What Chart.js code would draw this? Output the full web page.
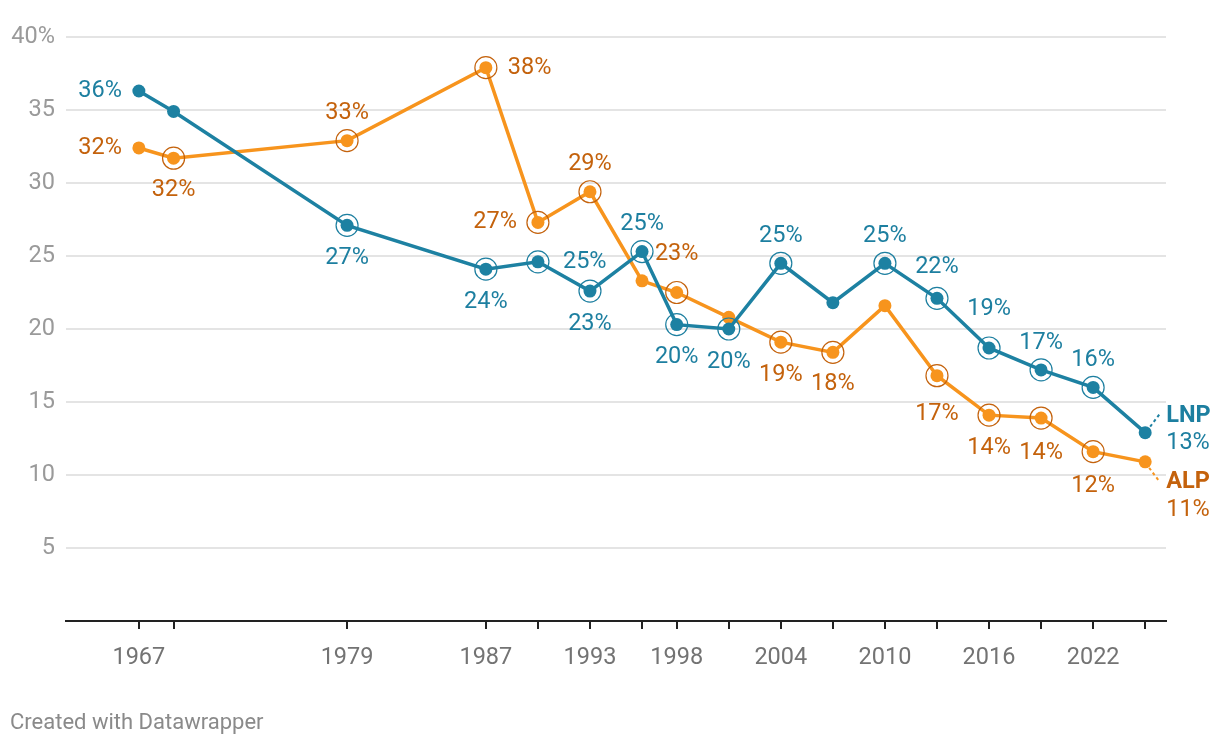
<!DOCTYPE html>
<html><head><meta charset="utf-8">
<script src="https://cdn.jsdelivr.net/npm/chart.js@4.4.1/dist/chart.umd.min.js"></script>
<style>html,body{margin:0;padding:0;background:#fff;} canvas{display:block;}</style>
</head><body>
<canvas id="c" width="1220" height="748" style="width:1220px;height:748px"></canvas>
<script>
// ---- data ----
const years = [1967,1969,1979,1987,1990,1993,1996,1998,2001,2004,2007,2010,2013,2016,2019,2022,2025];
const lnpValues = [36.3,34.9,27.1,24.1,24.6,22.6,25.3,20.3,20.0,24.5,21.8,24.5,22.1,18.7,17.2,16.0,12.9];
const alpValues = [32.4,31.7,32.9,37.9,27.3,29.4,23.3,22.5,20.8,19.1,18.4,21.6,16.8,14.1,13.9,11.6,10.9];
const seriesNames = ['LNP','ALP'];
const labeledYears = [1967,1979,1987,1993,1998,2004,2010,2016,2022];
const yTickValues = [0,5,10,15,20,25,30,35,40];

// ---- styling ----
const LNP_COLOR = '#1d81a2', LNP_TEXT = '#1d7fa0';
const ALP_COLOR = '#f7941d', ALP_TEXT = '#c4620c';
const FONT = 'Roboto, "Noto Sans", Arial, sans-serif';
const LABEL_SIZE = 23.5;

// label placement (pixel offsets from the point)
const placements = [
  { text: LNP_TEXT, ring: LNP_TEXT, items: [
    {i:0,dx:-17,dy:0,align:'right'}, {i:2,dx:0,dy:33}, {i:3,dx:0,dy:33},
    {i:4,dx:25,dy:0,align:'left'}, {i:5,dx:0,dy:33}, {i:6,dx:0,dy:-27},
    {i:7,dx:0,dy:33}, {i:8,dx:0,dy:33}, {i:9,dx:0,dy:-27}, {i:11,dx:0,dy:-27},
    {i:12,dx:0,dy:-31}, {i:13,dx:0,dy:-39}, {i:14,dx:0,dy:-27}, {i:15,dx:0,dy:-27}
  ], rings:[2,3,4,5,6,7,8,9,11,12,13,14,15],
    end:{dx:21, nameDy:-17, valDy:10, c1:[5,-6], c2:[14,-18]} },
  { text: ALP_TEXT, ring: ALP_TEXT, items: [
    {i:0,dx:-17,dy:0,align:'right'}, {i:1,dx:0,dy:32}, {i:2,dx:0,dy:-28},
    {i:3,dx:22,dy:0,align:'left'}, {i:4,dx:-21,dy:0,align:'right'}, {i:5,dx:0,dy:-28},
    {i:7,dx:0,dy:-38}, {i:9,dx:0,dy:33}, {i:10,dx:0,dy:32}, {i:12,dx:0,dy:38},
    {i:13,dx:0,dy:33}, {i:14,dx:0,dy:35}, {i:15,dx:0,dy:34}
  ], rings:[1,2,3,4,5,7,9,10,12,13,14,15],
    end:{dx:21, nameDy:20, valDy:48, c1:[4,6], c2:[13,18]} }
];

const labelPlugin = {
  id: 'labels',
  afterDatasetsDraw(chart) {
    const ctx = chart.ctx;
    ctx.save();
    placements.forEach((p, di) => {
      const meta = chart.getDatasetMeta(di);
      const vals = chart.data.datasets[di].data;
      // rings
      ctx.strokeStyle = p.ring; ctx.lineWidth = 1.2; ctx.setLineDash([]);
      p.rings.forEach(i => {
        const el = meta.data[i];
        ctx.beginPath(); ctx.arc(el.x, el.y, 11, 0, Math.PI*2); ctx.stroke();
      });
      // labels
      ctx.fillStyle = p.text; ctx.font = LABEL_SIZE + 'px ' + FONT; ctx.textBaseline = 'middle';
      p.items.forEach(it => {
        const el = meta.data[it.i];
        ctx.textAlign = it.align || 'center';
        ctx.fillText(Math.round(vals[it.i].y) + '%', el.x + it.dx, el.y + it.dy);
      });
      // end label
      const last = meta.data.length - 1, el = meta.data[last], e = p.end;
      ctx.strokeStyle = chart.data.datasets[di].borderColor; ctx.lineWidth = 2;
      ctx.setLineDash([3,3]);
      ctx.beginPath(); ctx.moveTo(el.x + e.c1[0], el.y + e.c1[1]); ctx.lineTo(el.x + e.c2[0], el.y + e.c2[1]); ctx.stroke();
      ctx.setLineDash([]);
      ctx.textAlign = 'left';
      ctx.font = 'bold ' + LABEL_SIZE + 'px ' + FONT;
      ctx.fillText(seriesNames[di], el.x + e.dx, el.y + e.nameDy);
      ctx.font = LABEL_SIZE + 'px ' + FONT;
      ctx.fillText(Math.round(vals[last].y) + '%', el.x + e.dx, el.y + e.valDy);
    });
    // footer
    ctx.fillStyle = '#8a8a8a'; ctx.font = '22px ' + FONT; ctx.textAlign = 'left'; ctx.textBaseline = 'middle';
    ctx.fillText('Created with Datawrapper', 10, 723);
    ctx.restore();
  }
};

const toXY = vals => vals.map((v, i) => ({x: years[i], y: v}));

new Chart(document.getElementById('c'), {
  type: 'line',
  data: {
    datasets: [
      { label: seriesNames[0], data: toXY(lnpValues), borderColor: LNP_COLOR, backgroundColor: LNP_COLOR,
        borderWidth: 3.5, pointRadius: 6.5, pointBackgroundColor: LNP_COLOR, pointBorderWidth: 0, tension: 0, clip: false },
      { label: seriesNames[1], data: toXY(alpValues), borderColor: ALP_COLOR, backgroundColor: ALP_COLOR,
        borderWidth: 3.5, pointRadius: 6.5, pointBackgroundColor: ALP_COLOR, pointBorderWidth: 0, tension: 0, clip: false }
    ]
  },
  options: {
    responsive: false, animation: false, devicePixelRatio: 1,
    layout: { padding: { top: 37, right: 54, bottom: 0, left: 0 } },
    plugins: { legend: { display: false }, tooltip: { enabled: false } },
    scales: {
      x: {
        type: 'linear', min: 1962.8, max: 2026.2,
        afterBuildTicks: s => { s.ticks = years.map(v => ({ value: v })); },
        afterFit: s => { s.height = 127; },
        ticks: { autoSkip: false, maxRotation: 0, padding: 15, color: '#737373',
          font: { family: FONT, size: 23.5 },
          callback: v => labeledYears.includes(v) ? String(v) : '' },
        grid: { display: true, drawOnChartArea: false, drawTicks: true, tickLength: 8, color: '#222', lineWidth: 2 },
        border: { display: true, color: '#222', width: 2 }
      },
      y: {
        min: 0, max: 40,
        afterBuildTicks: s => { s.ticks = yTickValues.map(v => ({ value: v })); },
        afterFit: s => { s.width = 66; },
        ticks: { padding: 11, color: '#9a9a9a', font: { family: FONT, size: 23.5 },
          callback: v => v === 0 ? '' : (v === 40 ? v + '%' : String(v)) },
        grid: { drawTicks: false, color: '#e4e4e4', lineWidth: 2 },
        border: { display: false }
      }
    }
  },
  plugins: [labelPlugin]
});
</script>
</body></html>
